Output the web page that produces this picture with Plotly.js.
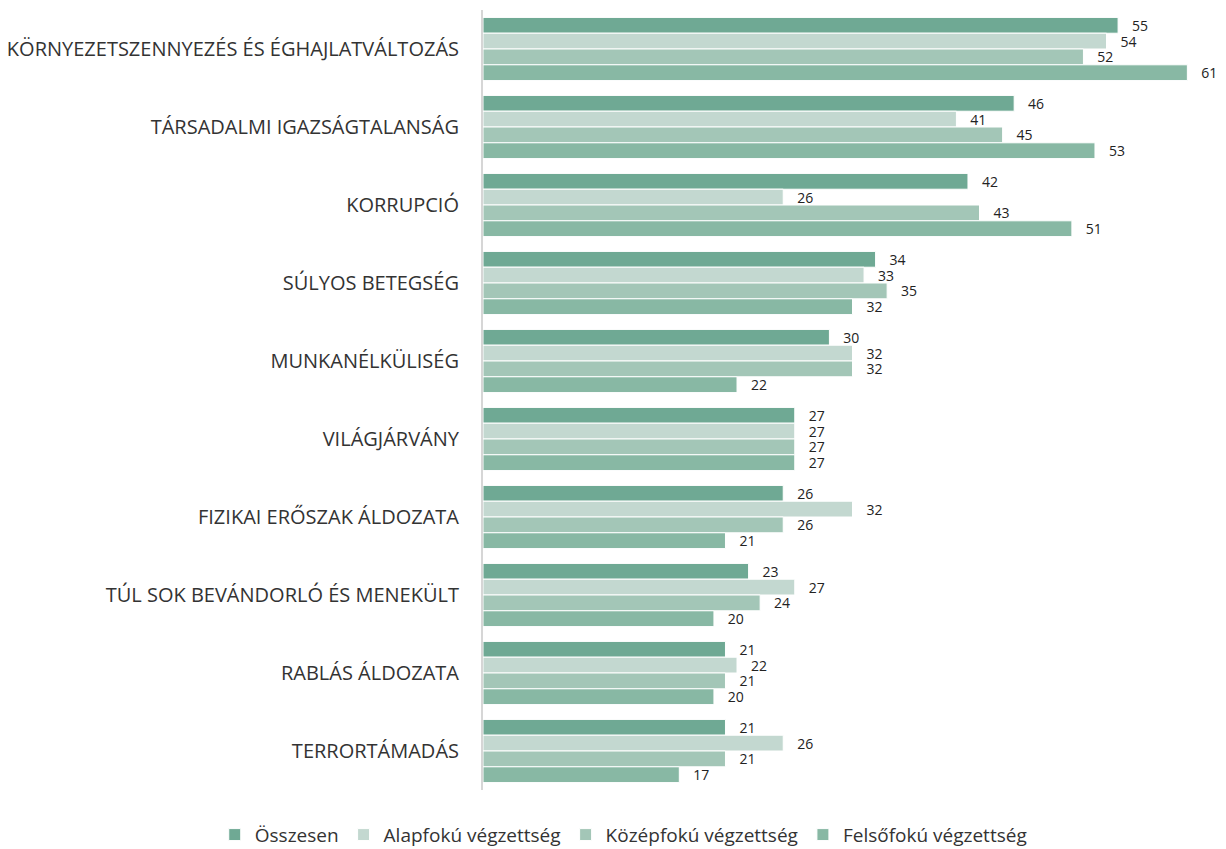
<!DOCTYPE html>
<html>
<head>
<meta charset="utf-8">
<script src="https://cdn.plot.ly/plotly-3.0.1.min.js"></script>
<style>html,body{margin:0;padding:0;background:#fff;}#chart{width:1226px;height:849px;}</style>
</head>
<body>
<div id="chart"></div>
<script>
const categories = [
  "KÖRNYEZETSZENNYEZÉS ÉS ÉGHAJLATVÁLTOZÁS",
  "TÁRSADALMI IGAZSÁGTALANSÁG",
  "KORRUPCIÓ",
  "SÚLYOS BETEGSÉG",
  "MUNKANÉLKÜLISÉG",
  "VILÁGJÁRVÁNY",
  "FIZIKAI ERŐSZAK ÁLDOZATA",
  "TÚL SOK BEVÁNDORLÓ ÉS MENEKÜLT",
  "RABLÁS ÁLDOZATA",
  "TERRORTÁMADÁS"
];
const seriesNames = ["Összesen", "Alapfokú végzettség", "Középfokú végzettség", "Felsőfokú végzettség"];
const osszesen = [55, 46, 42, 34, 30, 27, 26, 23, 21, 21];
const alapfoku = [54, 41, 26, 33, 32, 27, 32, 27, 22, 26];
const kozepfoku = [52, 45, 43, 35, 32, 27, 26, 24, 21, 21];
const felsofoku = [61, 53, 51, 32, 22, 27, 21, 20, 20, 17];
const colors = ["#6fa994", "#c3d8d0", "#a3c6b7", "#88b8a4"];

const values = [osszesen, alapfoku, kozepfoku, felsofoku];
const traces = values.map((v, i) => ({
  type: "bar",
  orientation: "h",
  name: seriesNames[i],
  y: categories,
  x: v,
  text: v.map(n => "\u00a0\u00a0\u00a0" + n),
  textposition: "outside",
  constraintext: "none",
  cliponaxis: false,
  textfont: {family: "Open Sans, sans-serif", size: 14, color: "#222"},
  marker: {color: colors[i], line: {color: "#ffffff", width: 1}},
  hoverinfo: "x+name"
}));

const layout = {
  width: 1226,
  height: 849,
  margin: {l: 483, r: 4, t: 10, b: 59, autoexpand: false},
  paper_bgcolor: "#fff",
  plot_bgcolor: "#fff",
  barmode: "group",
  bargap: 0.19,
  bargroupgap: 0,
  showlegend: true,
  legend: {
    orientation: "h",
    x: -0.363, xanchor: "left",
    y: -0.033, yanchor: "top",
    font: {family: "Open Sans, sans-serif", size: 19, color: "#333"},
    traceorder: "normal",
    itemwidth: 30
  },
  xaxis: {
    range: [0, 64],
    showgrid: false,
    zeroline: false,
    showticklabels: false,
    showline: false,
    ticks: ""
  },
  yaxis: {
    autorange: "reversed",
    showgrid: false,
    zeroline: false,
    showline: true,
    linecolor: "#d6d6d6",
    linewidth: 2,
    ticks: "",
    ticklabelstandoff: 18,
    tickfont: {family: "Open Sans, sans-serif", size: 20, color: "#333"}
  },
  font: {family: "Open Sans, sans-serif"}
};

Plotly.newPlot("chart", traces, layout, {displayModeBar: false, staticPlot: true});
</script>
</body>
</html>
